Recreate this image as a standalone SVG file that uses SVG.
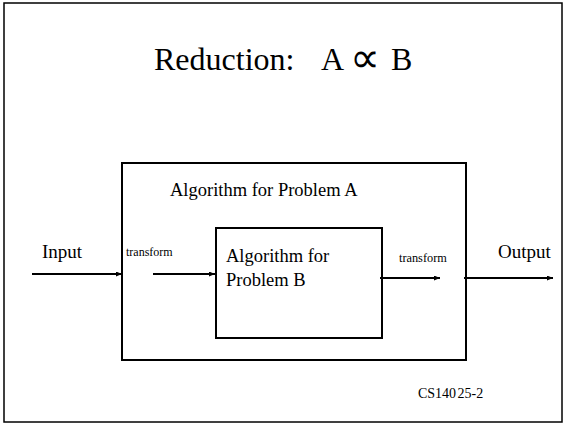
<svg xmlns="http://www.w3.org/2000/svg" width="565" height="424" viewBox="0 0 565 424">
<style>
text{font-family:"Liberation Serif","Times New Roman",serif;fill:#000}
.box{fill:none;stroke:#000;stroke-width:2}
.ln{stroke:#000;stroke-width:2;fill:none}
</style>
<defs>
<marker id="ah" markerWidth="6" markerHeight="5" refX="6" refY="2.5" orient="auto" markerUnits="userSpaceOnUse">
<path d="M0,0 L6,2.5 L0,5 Z" fill="#000"/>
</marker>
</defs>
<rect width="565" height="424" fill="#fff"/>
<rect x="4" y="3" width="558" height="419" fill="none" stroke="#000" stroke-width="1.5"/>
<g id="title">
<text y="70" font-size="32"><tspan x="154">Reduction:</tspan><tspan x="321">A</tspan><tspan x="350" font-size="42" y="72">∝</tspan><tspan x="391" y="70">B</tspan></text>
</g>
<g id="algA">
<rect class="box" x="122" y="163" width="344" height="197"/>
<text x="170" y="196" font-size="18.5">Algorithm for Problem A</text>
</g>
<g id="algB">
<rect class="box" x="216" y="228" width="166" height="110"/>
<text x="226" y="262" font-size="18.5">Algorithm for</text>
<text x="226" y="285.5" font-size="18.5">Problem B</text>
</g>
<g id="labels">
<text x="42" y="258" font-size="19">Input</text>
<text x="498" y="258" font-size="19">Output</text>
<text x="126" y="256" font-size="12">transform</text>
<text x="399" y="261.5" font-size="12.3">transform</text>
<text x="418" y="398" font-size="14" word-spacing="-2">CS140 25-2</text>
</g>
<g id="connectors">
<line class="ln" x1="32" y1="274" x2="122" y2="274" marker-end="url(#ah)"/>
<line class="ln" x1="153" y1="274" x2="215" y2="274" marker-end="url(#ah)"/>
<line class="ln" x1="380" y1="278" x2="440" y2="278" marker-end="url(#ah)"/>
<line class="ln" x1="464" y1="278" x2="553" y2="278" marker-end="url(#ah)"/>
</g>
</svg>
